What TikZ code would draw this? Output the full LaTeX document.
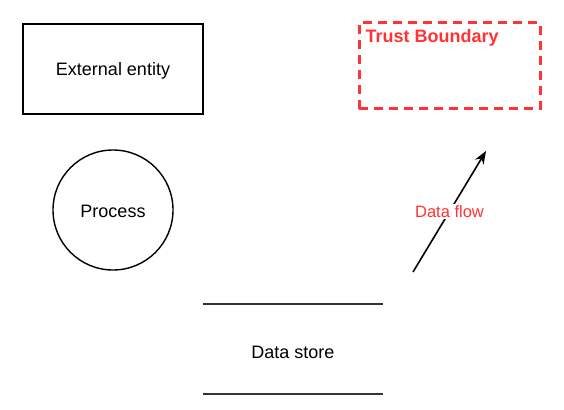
\documentclass[tikz,border=0pt]{standalone}
\usepackage{fontspec}
\setmainfont{Liberation Sans}
\usetikzlibrary{arrows.meta}
\definecolor{tbred}{HTML}{FF3333}
\definecolor{dsgray}{HTML}{333333}
\begin{document}
\begin{tikzpicture}[x=1pt,y=-1pt,
  lbl/.style={font=\fontsize{18}{20}\selectfont, inner sep=0pt},
  shp/.style={draw=black, line width=1.4pt}]
\useasboundingbox (0,0) rectangle (564,409);
% External entity
\node[shp, minimum width=180pt, minimum height=90pt, inner sep=0pt] (ext) at (113,69) {};
\node[lbl] (extt) at (113,71) {External entity};
% Process
\node[shp, circle, minimum size=120pt, inner sep=0pt] (proc) at (113,210) {};
\node[lbl] (proct) at (113,211) {Process};
% Trust boundary
\node[draw=tbred, dashed, dash pattern=on 9pt off 6pt, line width=3pt, minimum width=181pt, minimum height=86pt, inner sep=0pt] (tb) at (449.5,66) {};
\node[font=\fontsize{18}{20}\selectfont\bfseries, text=tbred, anchor=west, inner sep=0pt] (tbt) at (365.5,37.5) {Trust Boundary};
% Data flow
\coordinate (dfa) at (413,272);
\coordinate (dfb) at (486,151);
\draw[line width=1.6pt, -{Stealth[length=13pt,width=10pt]}] (dfa) -- (dfb) node[pos=0.5, fill=white, text=tbred, font=\fontsize{16.5}{18}\selectfont, inner sep=1pt] (dft) {Data flow};
% Data store
\coordinate (ds1a) at (203,304);
\coordinate (ds1b) at (383,304);
\coordinate (ds2a) at (203,394);
\coordinate (ds2b) at (383,394);
\draw[dsgray, line width=1.6pt] (ds1a) -- (ds1b);
\draw[dsgray, line width=1.6pt] (ds2a) -- (ds2b);
\node[lbl] (dst) at (293,352) {Data store};
\end{tikzpicture}
\end{document}
